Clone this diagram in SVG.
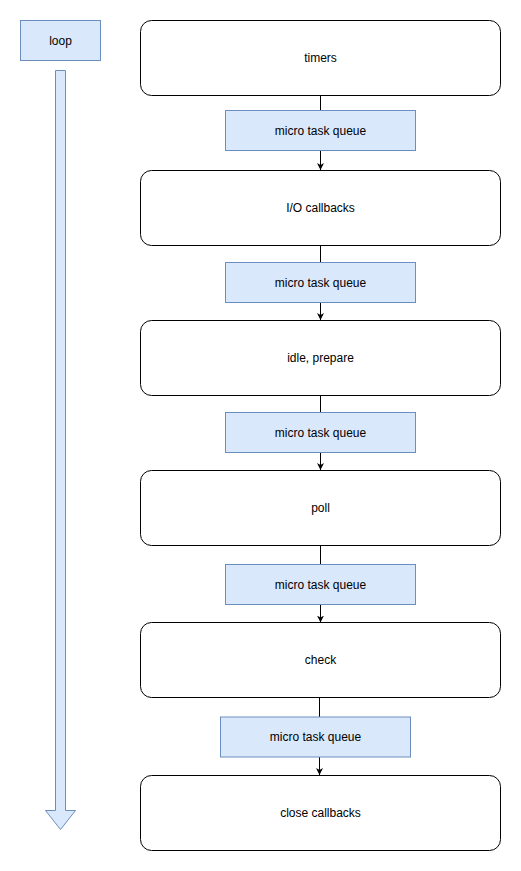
<svg xmlns="http://www.w3.org/2000/svg" width="521" height="871" viewBox="0 0 521 871">
<style>
.phase{fill:#fff;stroke:#000;stroke-width:1}
.q{fill:#dae8fc;stroke:#6c8ebf;stroke-width:1}
.t{font-family:"Liberation Sans",Arial,sans-serif;font-size:12px;fill:#000;text-anchor:middle;dominant-baseline:central}
.c{stroke:#000;stroke-width:1;fill:none}
</style>
<defs>
<marker id="arr" viewBox="0 0 10 10" refX="10" refY="5" markerWidth="7" markerHeight="7" markerUnits="userSpaceOnUse" orient="auto">
<path d="M0,0 L10,5 L0,10 L3,5 Z" fill="#000"/>
</marker>
</defs>
<rect width="521" height="871" fill="#fff"/>
<g id="loop">
<rect class="q" x="20.5" y="20.5" width="80" height="40"/>
<text class="t" x="60.5" y="40.5">loop</text>
</g>
<g id="loop-arrow">
<path class="q" d="M55.5,70.5 H65.5 V810.5 H75.5 L60.5,829.5 L45.5,810.5 H55.5 Z"/>
</g>
<g id="connectors">
<line class="c" x1="320.5" y1="95.5" x2="320.5" y2="110.5"/>
<line class="c" x1="320.5" y1="150.5" x2="320.5" y2="170" marker-end="url(#arr)"/>
<line class="c" x1="320.5" y1="245.5" x2="320.5" y2="262.5"/>
<line class="c" x1="320.5" y1="302.5" x2="320.5" y2="320" marker-end="url(#arr)"/>
<line class="c" x1="320.5" y1="395.5" x2="320.5" y2="412.5"/>
<line class="c" x1="320.5" y1="452.5" x2="320.5" y2="470" marker-end="url(#arr)"/>
<line class="c" x1="320.5" y1="545.5" x2="320.5" y2="564.5"/>
<line class="c" x1="320.5" y1="604.5" x2="320.5" y2="622.5" marker-end="url(#arr)"/>
<line class="c" x1="319.5" y1="697.5" x2="319.5" y2="717"/>
<line class="c" x1="319.5" y1="757" x2="319.5" y2="775" marker-end="url(#arr)"/>
</g>
<g id="timers">
<rect class="phase" x="140.5" y="20.5" width="360" height="75" rx="11"/>
<text class="t" x="320.5" y="58">timers</text>
</g>
<g id="q1">
<rect class="q" x="225.5" y="110.5" width="190" height="40"/>
<text class="t" x="320.5" y="130.5">micro task queue</text>
</g>
<g id="io">
<rect class="phase" x="140.5" y="170.5" width="360" height="75" rx="11"/>
<text class="t" x="320.5" y="208">I/O callbacks</text>
</g>
<g id="q2">
<rect class="q" x="225.5" y="262.5" width="190" height="40"/>
<text class="t" x="320.5" y="282.5">micro task queue</text>
</g>
<g id="idle">
<rect class="phase" x="140.5" y="320.5" width="360" height="75" rx="11"/>
<text class="t" x="320.5" y="358">idle, prepare</text>
</g>
<g id="q3">
<rect class="q" x="225.5" y="412.5" width="190" height="40"/>
<text class="t" x="320.5" y="432.5">micro task queue</text>
</g>
<g id="poll">
<rect class="phase" x="140.5" y="470.5" width="360" height="75" rx="11"/>
<text class="t" x="320.5" y="508">poll</text>
</g>
<g id="q4">
<rect class="q" x="225.5" y="564.5" width="190" height="40"/>
<text class="t" x="320.5" y="584.5">micro task queue</text>
</g>
<g id="check">
<rect class="phase" x="140.5" y="622.5" width="360" height="75" rx="11"/>
<text class="t" x="320.5" y="660">check</text>
</g>
<g id="q5">
<rect class="q" x="220.5" y="717" width="190" height="40"/>
<text class="t" x="315.5" y="737">micro task queue</text>
</g>
<g id="close">
<rect class="phase" x="140.5" y="775.5" width="360" height="75" rx="11"/>
<text class="t" x="320.5" y="813">close callbacks</text>
</g>
</svg>
